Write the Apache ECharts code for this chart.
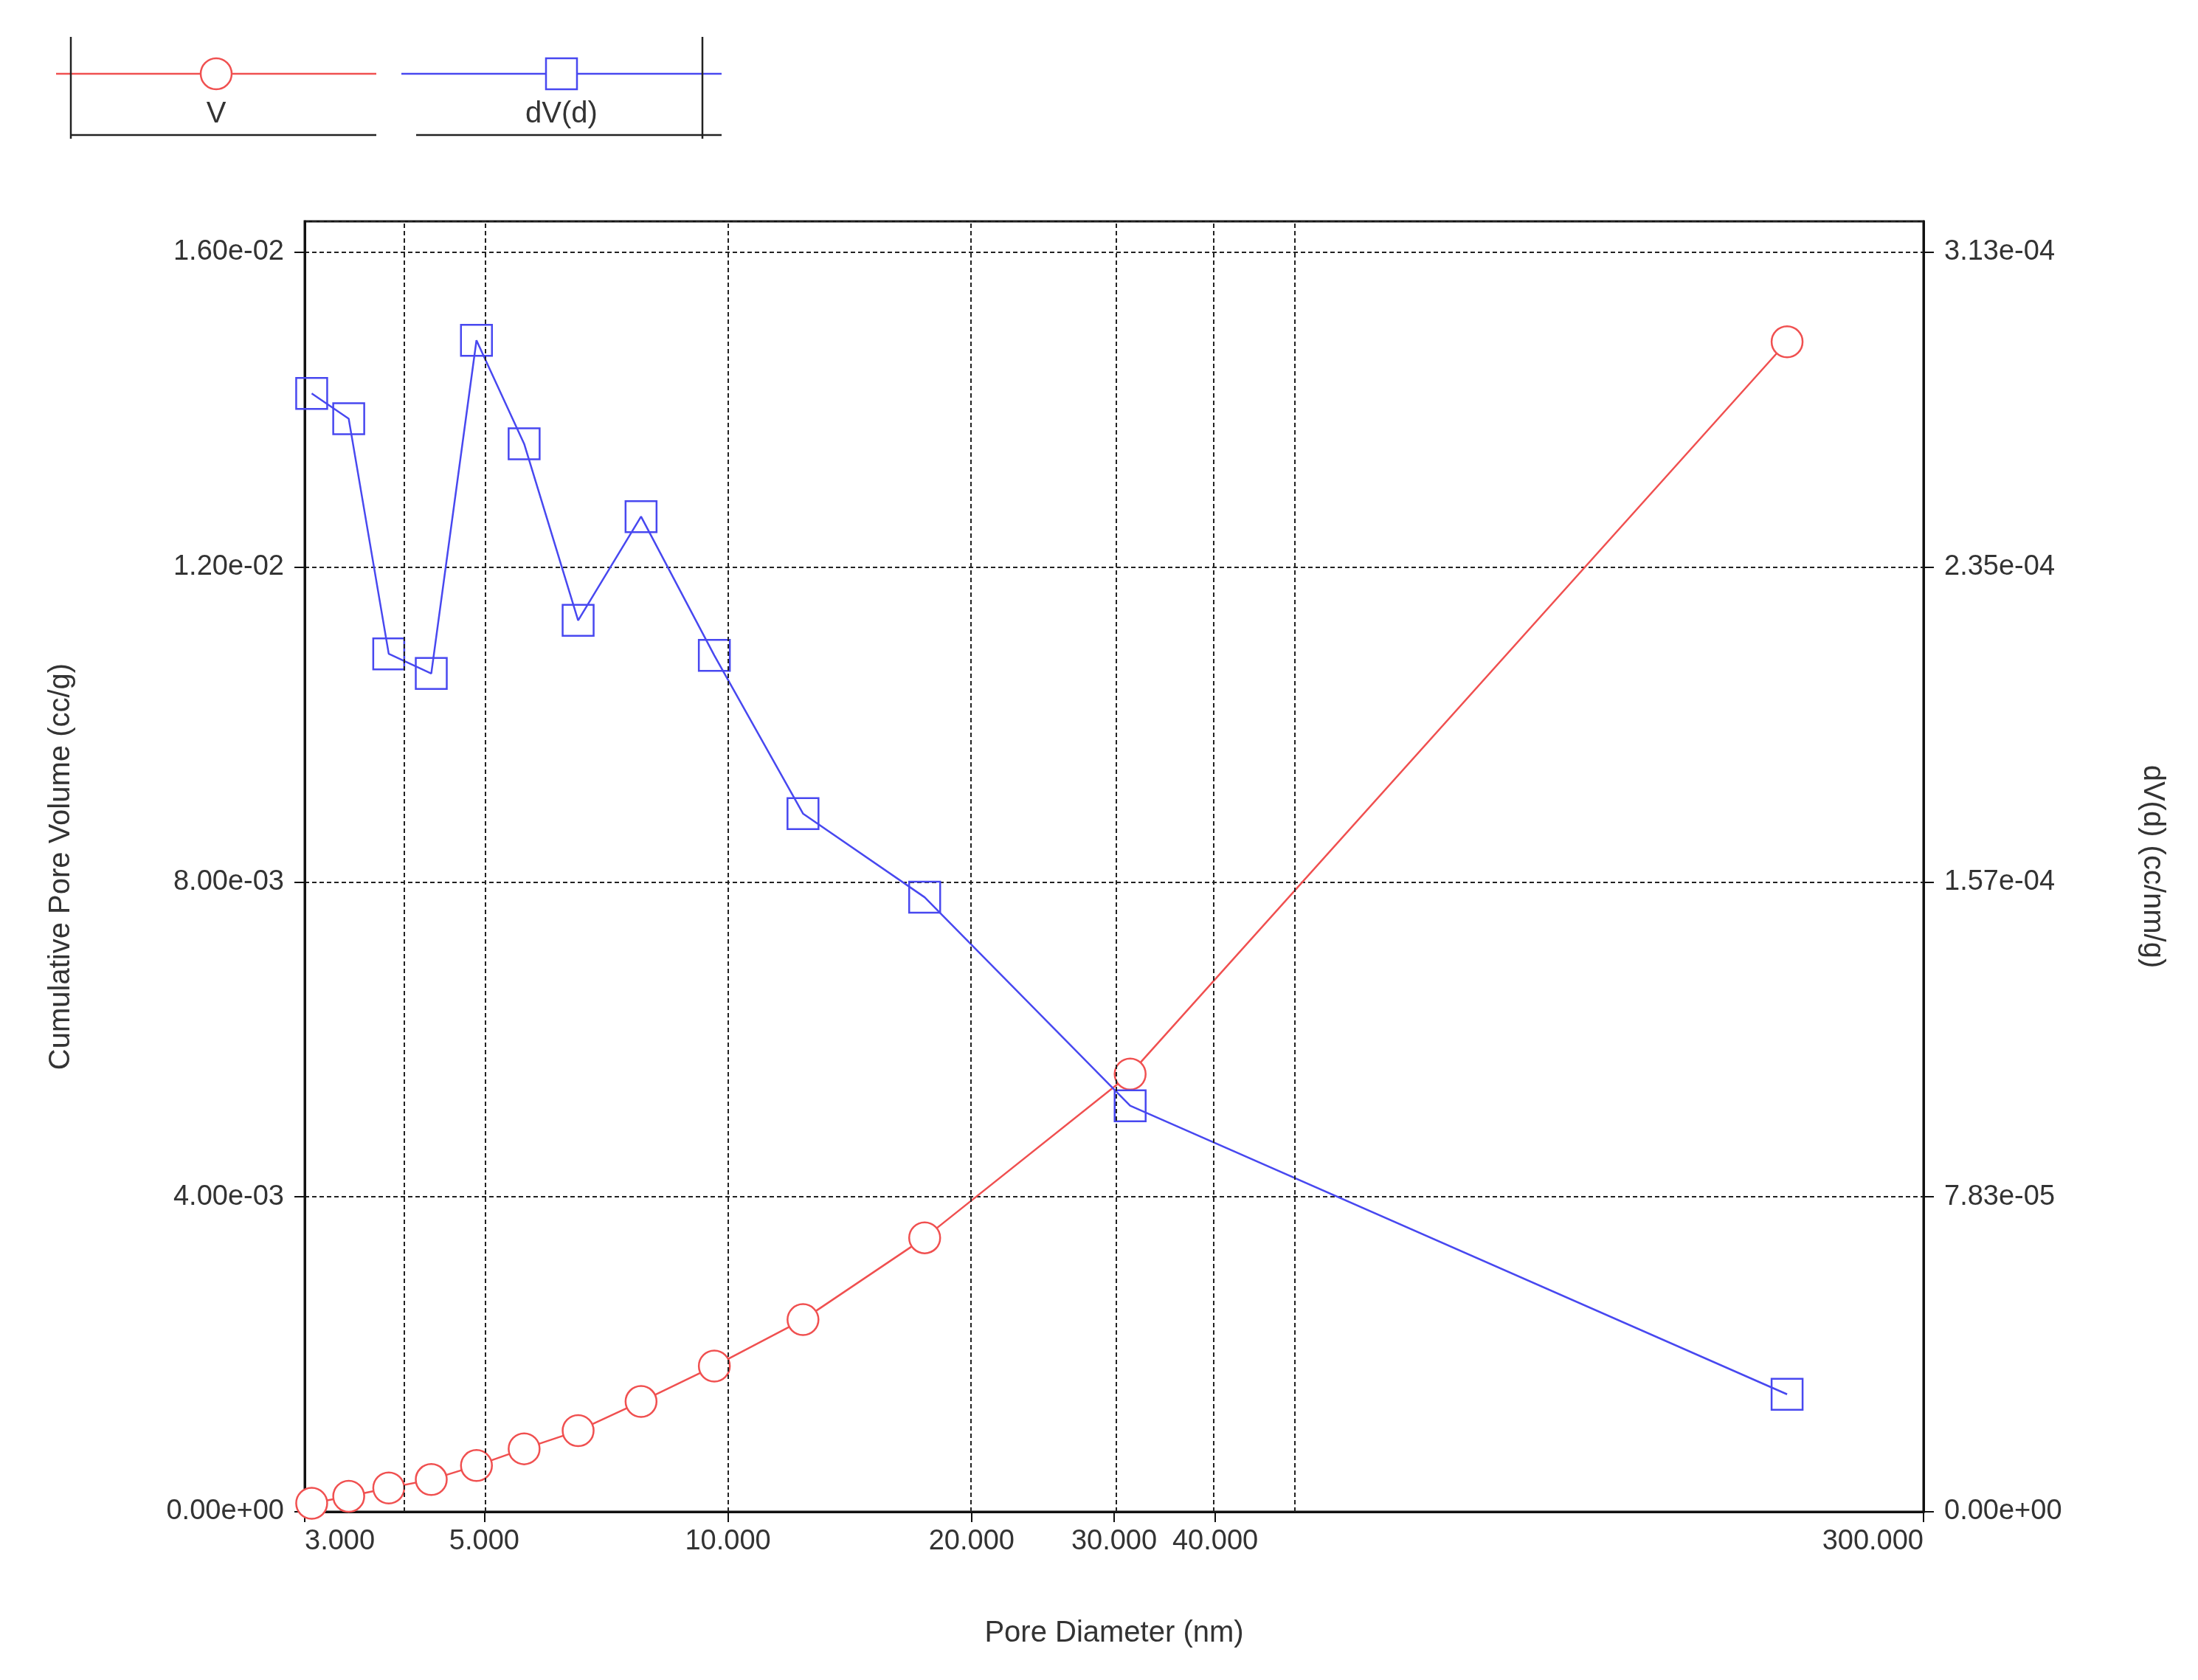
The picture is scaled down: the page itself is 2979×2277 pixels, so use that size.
<!DOCTYPE html>
<html>
<head>
<meta charset="utf-8">
<script src="https://cdn.jsdelivr.net/npm/echarts@6/dist/echarts.min.js"></script>
<style>html,body{margin:0;background:#fff}#chart{width:2979px;height:2277px}</style>
</head>
<body>
<div id="chart"></div>
<script>
// 孔径 (nm)
const diameters = [3.06, 3.40, 3.81, 4.30, 4.89, 5.60, 6.53, 7.81, 9.62, 12.38, 17.5, 31.4, 203.5];
// 累计孔容 V (cc/g)
const cumVolume = [0.000107, 0.000196, 0.000302, 0.000409, 0.000587, 0.0008, 0.00103, 0.00140, 0.00185, 0.00244, 0.00348, 0.00556, 0.01486];
// dV(d) (cc/nm/g)
const dvd = [2.779e-4, 2.716e-4, 2.132e-4, 2.083e-4, 2.911e-4, 2.654e-4, 2.215e-4, 2.473e-4, 2.128e-4, 1.735e-4, 1.527e-4, 1.009e-4, 2.92e-5];
const xTicks = [3, 5, 10, 20, 30, 40, 300];
const xGrid = [4, 5, 10, 20, 30, 40, 50];

const lg = Math.log10;
const font = 'Liberation Sans, Arial, sans-serif';
const chart = echarts.init(document.getElementById('chart'));

// 科学计数法，指数两位
function sci(v) {
    const s = v.toExponential(2);
    const [m, e] = s.split('e');
    const sign = e[0];
    const digits = e.slice(1).padStart(2, '0');
    return m + 'e' + sign + digits;
}

// 图例（手绘方框样式）
function legendItem(x0, x1, color, symbol, label, barLeft, barRight) {
    const els = [
        { type: 'line', shape: { x1: x0, y1: 100, x2: x1, y2: 100 }, style: { stroke: color, lineWidth: 2.5 } },
        { type: 'line', shape: { x1: x0 + 20, y1: 183, x2: x1, y2: 183 }, style: { stroke: '#222', lineWidth: 2.5 } },
        { type: 'text', x: (x0 + x1) / 2, y: 155, style: { text: label, font: '40px ' + font, fill: '#333', align: 'center', verticalAlign: 'middle' } }
    ];
    const cx = (x0 + x1) / 2;
    if (symbol === 'circle') els.push({ type: 'circle', shape: { cx: cx, cy: 100, r: 21 }, style: { stroke: color, fill: '#fff', lineWidth: 2.5 } });
    else els.push({ type: 'rect', shape: { x: cx - 21, y: 79, width: 42, height: 42 }, style: { stroke: color, fill: '#fff', lineWidth: 2.5 } });
    if (barLeft) els.push({ type: 'line', shape: { x1: barLeft, y1: 50, x2: barLeft, y2: 188 }, style: { stroke: '#222', lineWidth: 2.5 } });
    if (barRight) els.push({ type: 'line', shape: { x1: barRight, y1: 50, x2: barRight, y2: 188 }, style: { stroke: '#222', lineWidth: 2.5 } });
    return els;
}

const option = {
    animation: false,
    backgroundColor: '#fff',
    textStyle: { fontFamily: font },
    grid: { left: 413, right: 372, top: 300, bottom: 228, show: true, borderColor: '#111', borderWidth: 3 },
    graphic: [].concat(
        legendItem(76, 510, '#f05050', 'circle', 'V', 96, null),
        legendItem(544, 978, '#4848f0', 'rect', 'dV(d)', null, 952)
    ),
    xAxis: {
        type: 'value', min: lg(3), max: lg(300),
        name: 'Pore Diameter (nm)', nameLocation: 'middle', nameGap: 145,
        nameTextStyle: { fontSize: 40, color: '#333' },
        axisLine: { lineStyle: { color: '#111', width: 3 } },
        axisTick: { customValues: xTicks.map(lg), length: 14, lineStyle: { color: '#111', width: 2 } },
        axisLabel: {
            customValues: xTicks.map(lg), fontSize: 38, color: '#333', margin: 22,
            alignMinLabel: 'left', alignMaxLabel: 'right',
            formatter: v => Math.pow(10, v).toFixed(3)
        },
        splitLine: { show: false }
    },
    yAxis: [{
        type: 'value', min: 0, max: 0.01639, interval: 0.004,
        name: 'Cumulative Pore Volume (cc/g)', nameLocation: 'middle', nameGap: 310,
        nameTextStyle: { fontSize: 40, color: '#333' },
        axisLine: { show: true, lineStyle: { color: '#111', width: 3 } },
        axisTick: { show: true, length: 14, lineStyle: { color: '#111', width: 2 } },
        axisLabel: { fontSize: 38, color: '#333', margin: 28, showMaxLabel: false, formatter: sci },
        splitLine: { show: true, lineStyle: { color: '#222', type: [6, 4], width: 2 } }
    }, {
        type: 'value', min: 0, max: 3.2066e-4, interval: 7.825e-5,
        name: 'dV(d) (cc/nm/g)', nameLocation: 'middle', nameGap: 290, nameRotate: -90,
        nameTextStyle: { fontSize: 40, color: '#333' },
        axisLine: { show: true, lineStyle: { color: '#111', width: 3 } },
        axisTick: { show: true, length: 14, lineStyle: { color: '#111', width: 2 } },
        axisLabel: { fontSize: 38, color: '#333', margin: 28, showMaxLabel: false, formatter: sci },
        splitLine: { show: false }
    }],
    series: [{
        name: 'V', type: 'line', yAxisIndex: 0,
        data: diameters.map((d, i) => [lg(d), cumVolume[i]]),
        symbol: 'circle', symbolSize: 42, showAllSymbol: true,
        lineStyle: { color: '#f05050', width: 2.5 },
        itemStyle: { color: '#fff', borderColor: '#f05050', borderWidth: 2.5 },
        markLine: {
            silent: true, symbol: 'none', label: { show: false },
            lineStyle: { color: '#222', type: [6, 4], width: 2 },
            data: xGrid.map(d => ({ xAxis: lg(d) }))
        },
        z: 3
    }, {
        name: 'dV(d)', type: 'line', yAxisIndex: 1,
        data: diameters.map((d, i) => [lg(d), dvd[i]]),
        symbol: 'rect', symbolSize: 42, showAllSymbol: true,
        lineStyle: { color: '#4848f0', width: 2.5 },
        itemStyle: { color: 'rgba(255,255,255,0)', borderColor: '#4848f0', borderWidth: 2.5 },
        z: 4
    }]
};

chart.setOption(option);
</script>
</body>
</html>
